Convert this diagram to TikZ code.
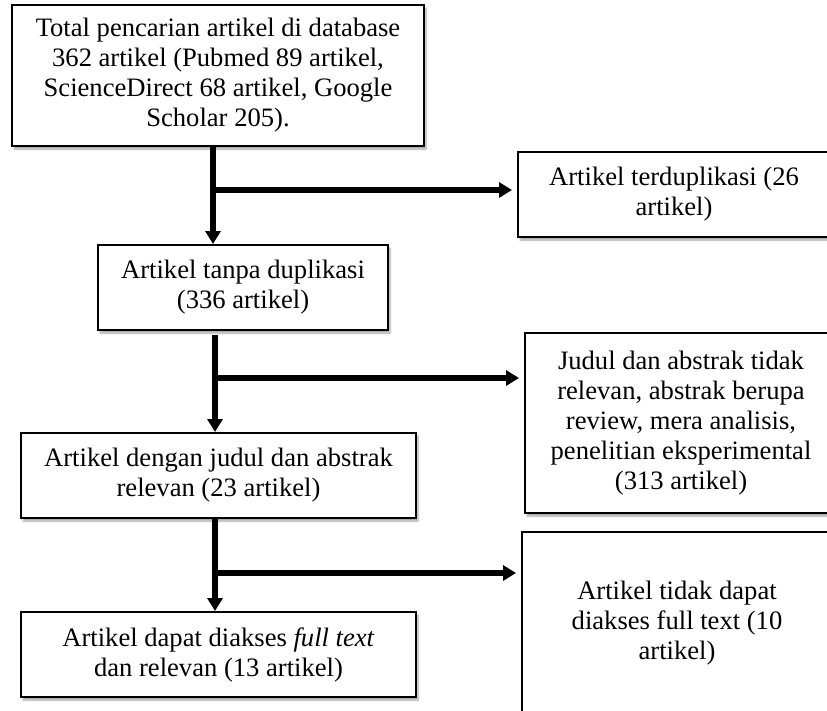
\documentclass[tikz,border=0pt]{standalone}
\usepackage{fontspec}
\setmainfont{Liberation Serif}
\usetikzlibrary{arrows.meta,shadows.blur}
\begin{document}
\begin{tikzpicture}[x=1pt,y=-1pt,
  box/.style={draw=black,line width=2pt,fill=white,inner sep=0pt,align=center,
    font=\fontsize{26.6}{30}\selectfont,
    blur shadow={shadow xshift=2pt,shadow yshift=-3pt,shadow blur steps=6,shadow opacity=35}},
  conn/.style={line width=5.8pt,-{Triangle[width=15pt,length=13pt]}}]
\useasboundingbox (0,0) rectangle (827,710);
\node[box,minimum width=412pt,minimum height=141pt] (b1) at (218,75.5)
  {Total pencarian artikel di database\\362 artikel (Pubmed 89 artikel,\\ScienceDirect 68 artikel, Google\\Scholar 205).};
\node[box,minimum width=312pt,minimum height=85pt] (b2) at (674,194.5)
  {Artikel terduplikasi (26\\artikel)};
\node[box,minimum width=290pt,minimum height=85pt] (b3) at (243,287.5)
  {Artikel tanpa duplikasi\\(336 artikel)};
\node[box,minimum width=312pt,minimum height=180pt] (b5) at (681,423)
  {Judul dan abstrak tidak\\relevan, abstrak berupa\\review, mera analisis,\\penelitian eksperimental\\(313 artikel)};
\node[box,minimum width=395pt,minimum height=85pt] (b4) at (218.5,475.5)
  {Artikel dengan judul dan abstrak\\relevan (23 artikel)};
\node[box,minimum width=310pt,minimum height=182pt] (b6) at (677,623)
  {Artikel tidak dapat\\diakses full text (10\\artikel)};
\node[box,minimum width=395pt,minimum height=85pt] (b7) at (218.5,654.5)
  {Artikel dapat diakses \textit{full text}\\dan relevan (13 artikel)};
% spines
\coordinate (s1) at (213,190);
\coordinate (s2) at (215,378);
\coordinate (s3) at (215,573);
\draw[conn] (b1.south -| s1) -- (b3.north -| s1);
\draw[conn,shorten >=5pt] (s1) -- (b2.west |- s1);
\draw[conn] ([yshift=-4pt]b3.south -| s2) -- (b4.north -| s2);
\draw[conn,shorten >=5pt] (s2) -- (b5.west |- s2);
\draw[conn] (b4.south -| s3) -- (b7.north -| s3);
\draw[conn,shorten >=5pt] (s3) -- (b6.west |- s3);
\end{tikzpicture}
\end{document}
